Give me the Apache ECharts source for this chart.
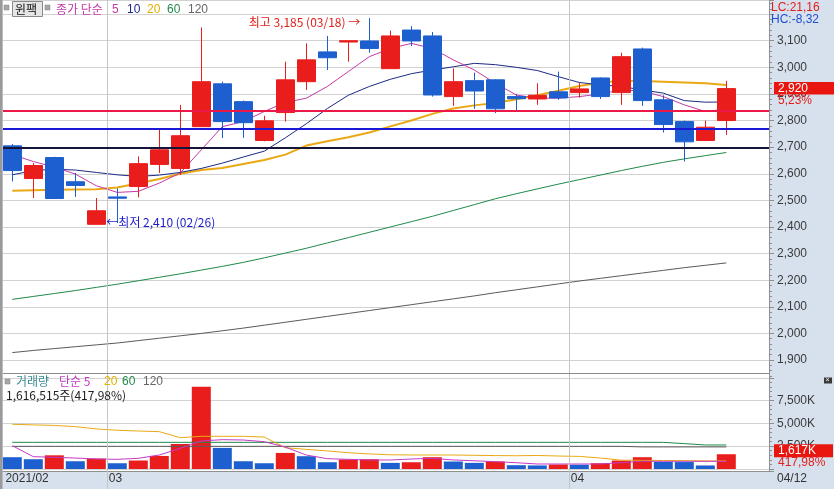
<!DOCTYPE html>
<html><head><meta charset="utf-8">
<script src="https://cdn.jsdelivr.net/npm/echarts@6/dist/echarts.min.js"></script>
<style>html,body{margin:0;padding:0;background:#d7e1ee}#c{width:834px;height:489px}</style>
</head><body><div id="c"></div>
<script>
const dates = ['02/22','02/23','02/24','02/25','02/26','03/02','03/03','03/04','03/05','03/08','03/09','03/10','03/11','03/12','03/15','03/16','03/17','03/18','03/19','03/22','03/23','03/24','03/25','03/26','03/29','03/30','03/31','04/01','04/02','04/05','04/06','04/07','04/08','04/09','04/12'];
const opens  = [2705,2582,2661,2570,2410,2513,2552,2635,2620,2777,2938,2871,2725,2830,2946,3058,3095,3099,2995,3140,3118,2890,2950,2953,2890,2881,2908,2905,2960,2905,3069,2878,2796,2725,2800];
const closes = [2612,2631,2507,2556,2461,2508,2638,2690,2743,2946,2796,2792,2799,2953,3028,3036,3100,3071,3118,3099,2896,2946,2911,2844,2882,2895,2885,2919,2890,3040,2875,2785,2720,2775,2920];
const lows   = [2571,2509,2505,2513,2410,2415,2511,2603,2596,2777,2734,2735,2722,2796,2915,2990,3021,3055,2995,3080,2890,2855,2844,2828,2837,2859,2878,2886,2881,2859,2855,2755,2646,2725,2746];
const highs  = [2712,2640,2664,2603,2509,2545,2665,2769,2859,3150,2946,2875,2818,3021,3090,3118,3100,3185,3138,3155,3133,2996,2980,2955,2900,2940,2984,2943,2962,3055,3074,2895,2800,2800,2949];
const ma5   = [2672,2646,2625,2599,2555,2530,2534,2565,2603,2690,2777,2796,2834,2868,2884,2928,2984,3040,3071,3090,3071,3028,2990,2940,2896,2884,2884,2890,2900,2915,2911,2890,2859,2834,2843];
const ma10  = [2596,2612,2617,2614,2605,2596,2590,2595,2605,2620,2640,2663,2685,2735,2788,2845,2895,2928,2955,2976,2990,3002,3015,3010,3000,2988,2965,2943,2934,2928,2915,2903,2875,2869,2870];
const ma20  = [2536,2538,2540,2541,2542,2548,2564,2580,2600,2614,2622,2637,2652,2672,2706,2722,2737,2755,2778,2800,2825,2845,2857,2866,2880,2895,2912,2930,2942,2950,2949,2946,2943,2940,2934];
const ma60  = [2128,2139,2150,2161,2173,2185,2198,2211,2224,2238,2252,2267,2284,2302,2320,2340,2360,2380,2400,2420,2440,2462,2484,2506,2525,2543,2561,2578,2595,2612,2628,2643,2656,2668,2680];
const ma120 = [1928,1936,1943,1950,1957,1964,1973,1982,1991,2000,2010,2020,2031,2042,2053,2064,2075,2086,2097,2108,2119,2130,2141,2153,2164,2175,2186,2197,2207,2217,2227,2237,2247,2256,2265];
const volumes = [1290,1070,1500,850,1140,630,930,1430,2740,9000,2310,850,630,1760,1400,740,1040,1070,670,740,1290,820,670,820,415,390,490,470,630,930,1290,775,760,387,1617];
const vma5   = [2550,1350,1280,1200,1095,1060,1170,1530,2270,3070,3210,3175,2990,2400,1530,1130,1060,985,985,1095,1170,990,900,800,690,548,548,548,548,700,843,843,843,843,843];
const vma20  = [4895,4830,4770,4640,4390,4240,4160,4090,3430,3580,3580,3580,3500,2330,2150,1980,1780,1650,1560,1533,1533,1533,1500,1470,1450,1480,1420,1380,1200,970,950,930,910,890,876];
const vma60  = [2920,2920,2920,2920,2920,2920,2920,2920,2920,2920,2920,2920,2920,2920,2920,2920,2920,2920,2920,2920,2920,2920,2920,2920,2920,2920,2920,2920,2920,2920,2920,2920,2780,2630,2630];
const vma120 = [2480,2480,2480,2480,2480,2480,2480,2480,2480,2480,2480,2480,2480,2480,2480,2480,2480,2480,2480,2480,2480,2480,2480,2480,2480,2480,2480,2480,2480,2480,2420,2420,2420,2420,2420];
const levelLines = [2837, 2769, 2698];
const monthBreaks = [4.5, 26.5];
const monthLabels = ['2021/02', '03', '04'];
const highInfo = {idx: 17, value: 3185, text: '최고 3,185 (03/18) →'};
const lowInfo = {idx: 4, value: 2410, text: '←최저 2,410 (02/26)'};

const RED = '#ea1d1d', BLUE = '#1d5fce';
const X_MIN = -0.443, X_MAX = 36.033;
const FONT = "'Liberation Sans', Arial, 'Noto Sans CJK KR', sans-serif";
const KFONT = "'Noto Sans CJK KR', 'Liberation Sans', sans-serif";

const chart = echarts.init(document.getElementById('c'));
const idx = dates.map((d, i) => i);
const pairs = arr => arr.map((v, i) => [i, v]);
const lineS = (arr, color, width, xi, z) => ({
  type: 'line', xAxisIndex: xi, yAxisIndex: xi, data: pairs(arr), symbol: 'none', showSymbol: false,
  lineStyle: {color: color, width: width}, z: z || 2, silent: true
});

const option = {
  animation: false,
  backgroundColor: '#d7e1ee',
  textStyle: {fontFamily: FONT},
  grid: [
    {left: 3, right: 65, top: 0, height: 378, show: true, backgroundColor: '#fff', borderWidth: 0},
    {left: 3, right: 65, top: 378, height: 93, show: true, backgroundColor: '#fff', borderWidth: 0}
  ],
  xAxis: [
    {type: 'value', gridIndex: 0, min: X_MIN, max: X_MAX, show: false},
    {type: 'value', gridIndex: 1, min: X_MIN, max: X_MAX,
      axisLine: {show: true, onZero: false, lineStyle: {color: '#8f8f8f'}},
      splitLine: {show: false},
      axisTick: {show: true, customValues: monthBreaks, length: 18, lineStyle: {color: '#c4c4c4'}},
      axisLabel: {show: true, customValues: [X_MIN + 0.02].concat(monthBreaks),
        formatter: function (v) { if (v < 0) return monthLabels[0]; return v < 10 ? monthLabels[1] : monthLabels[2]; },
        align: 'left', margin: 2, padding: [0, 0, 0, 2], color: '#333', fontSize: 12, fontFamily: FONT,
        showMinLabel: true, showMaxLabel: true}
    }
  ],
  yAxis: [
    {type: 'value', gridIndex: 0, position: 'right', min: 1832.5, max: 3253,
      splitNumber: 14, minInterval: 100, maxInterval: 100,
      axisLine: {show: true, onZero: false, lineStyle: {color: '#8f8f8f'}},
      axisTick: {show: true, length: 5, lineStyle: {color: '#8f8f8f'}},
      minorTick: {show: true, splitNumber: 5, length: 3, lineStyle: {color: '#8f8f8f'}},
      splitLine: {show: true, lineStyle: {color: '#d2d2d2', width: 1}},
      axisLabel: {margin: 8, color: '#3a3a3a', fontSize: 12, fontFamily: FONT,
        showMinLabel: false, showMaxLabel: false,
        formatter: function (v) { return (Math.abs(v % 100) < 0.01 && v < 3150 && v > 1850) ? Math.round(v).toLocaleString('en-US') : ''; }}
    },
    {type: 'value', gridIndex: 1, position: 'right', min: -219, max: 9964,
      splitNumber: 4, minInterval: 2500, maxInterval: 2500,
      axisLine: {show: true, onZero: false, lineStyle: {color: '#8f8f8f'}},
      axisTick: {show: true, length: 5, lineStyle: {color: '#8f8f8f'}},
      minorTick: {show: true, splitNumber: 5, length: 3, lineStyle: {color: '#8f8f8f'}},
      splitLine: {show: true, lineStyle: {color: '#d2d2d2', width: 1}},
      axisLabel: {margin: 8, color: '#3a3a3a', fontSize: 12, fontFamily: FONT,
        showMinLabel: false, showMaxLabel: false,
        formatter: function (v) { return (v > 0 && v % 2500 === 0) ? v.toLocaleString('en-US') + 'K' : ''; }}
    }
  ],
  series: [
    {type: 'line', xAxisIndex: 0, yAxisIndex: 0, data: [], z: 1, silent: true,
      markLine: {silent: true, symbol: 'none', label: {show: false},
        lineStyle: {color: '#c4c4c4', width: 1, type: 'solid'},
        data: monthBreaks.map(v => ({xAxis: v}))}},
    {type: 'line', xAxisIndex: 1, yAxisIndex: 1, data: [], z: 1, silent: true,
      markLine: {silent: true, symbol: 'none', label: {show: false},
        lineStyle: {color: '#c4c4c4', width: 1, type: 'solid'},
        data: monthBreaks.map(v => ({xAxis: v}))}},
    lineS(ma120, '#5a5a5a', 1, 0),
    lineS(ma60, '#1f8a4a', 1, 0),
    lineS(ma20, '#eaa914', 2, 0),
    lineS(ma10, '#1c2a84', 1, 0),
    lineS(ma5, '#c43aa6', 1, 0),
    {type: 'candlestick', xAxisIndex: 0, yAxisIndex: 0, z: 3, silent: true,
      data: idx.map(i => [i, opens[i], closes[i], lows[i], highs[i]]),
      encode: {x: 0, y: [1, 2, 3, 4]},
      barWidth: 19,
      itemStyle: {color: RED, color0: BLUE, borderColor: RED, borderColor0: BLUE, borderWidth: 1},
      markLine: {silent: true, symbol: 'none', label: {show: false},
        data: [
          {yAxis: levelLines[0], lineStyle: {color: '#ec1848', width: 2, type: 'solid'}},
          {yAxis: levelLines[1], lineStyle: {color: '#1a1ad6', width: 2, type: 'solid'}},
          {yAxis: levelLines[2], lineStyle: {color: '#15153a', width: 2, type: 'solid'}}
        ]},
      markPoint: {silent: true, symbol: 'circle', symbolSize: 0.1, itemStyle: {color: 'rgba(0,0,0,0)'},
        data: [
          {coord: [highInfo.idx, highInfo.value], label: {show: true, position: 'left', distance: 9, offset: [0, 4],
            formatter: highInfo.text, color: '#e0201a', fontSize: 12, fontFamily: KFONT}},
          {coord: [lowInfo.idx, lowInfo.value], label: {show: true, position: 'right', distance: 10, offset: [0, -2],
            formatter: lowInfo.text, color: '#1a1ad0', fontSize: 12, fontFamily: KFONT}}
        ]}
    },
    {type: 'bar', xAxisIndex: 1, yAxisIndex: 1, barWidth: 19, z: 2, silent: true,
      data: volumes.map((v, i) => ({value: [i, v], itemStyle: {color: (i > 0 && v > volumes[i - 1]) ? RED : BLUE}}))},
    lineS(vma120, '#5a5a5a', 1, 1, 3),
    lineS(vma60, '#1f8a4a', 1, 1, 3),
    lineS(vma20, '#eaa914', 1, 1, 3),
    lineS(vma5, '#c43ac4', 1, 1, 3)
  ]
};
chart.setOption(option);

const lastClose = closes[closes.length - 1];
const lastVol = volumes[volumes.length - 1];
const py = chart.convertToPixel({yAxisIndex: 0}, lastClose);
const vy = chart.convertToPixel({yAxisIndex: 1}, lastVol);
const T = (x, y, text, color, size, font, extra) => Object.assign({type: 'text', z: 100, x: x, y: y,
  style: {text: text, fill: color, font: (size || 12) + 'px ' + (font || FONT), textVerticalAlign: 'middle', textAlign: 'left'}}, extra || {});
chart.setOption({graphic: [
  {type: 'rect', z: 100, shape: {x: 0, y: 0, width: 2.5, height: 489}, style: {fill: '#9a9a9a'}},
  {type: 'line', z: 100, shape: {x1: 3, y1: 373.5, x2: 769, y2: 373.5}, style: {stroke: '#8c8c8c', lineWidth: 1}},
  {type: 'rect', z: 100, shape: {x: 4, y: 5, width: 5, height: 5}, style: {fill: '#a8a8a8', stroke: '#808080', lineWidth: 0.5}},
  {type: 'rect', z: 100, shape: {x: 12.5, y: 1.5, width: 30, height: 15}, style: {fill: '#e6e6e6', stroke: '#8a8a8a', lineWidth: 1}},
  T(15, 9.5, '윈팩', '#111', 12, KFONT),
  {type: 'rect', z: 100, shape: {x: 45, y: 5, width: 5, height: 5}, style: {fill: '#a8a8a8', stroke: '#808080', lineWidth: 0.5}},
  T(56, 9.5, '종가 단순', '#c43aa6', 12, KFONT),
  T(112, 9.5, '5', '#c43aa6', 12),
  T(127, 9.5, '10', '#1c2a84', 12),
  T(147, 9.5, '20', '#e0b000', 12),
  T(167, 9.5, '60', '#1f8a4a', 12),
  T(188, 9.5, '120', '#666', 12),
  T(771, 7.5, 'LC:21,16', '#e0201a', 12),
  T(771, 20, 'HC:-8,32', '#1f4fcf', 12),
  {type: 'rect', z: 100, shape: {x: 774, y: py - 6.5, width: 60, height: 12.5}, style: {fill: '#e8160f'}},
  T(778, py, '2,920', '#fff', 12),
  T(778, py + 12, '5,23%', '#e0201a', 12),
  {type: 'rect', z: 100, shape: {x: 774, y: vy - 10, width: 59, height: 13}, style: {fill: '#e8160f'}},
  T(778, vy - 3.5, '1,617K', '#fff', 12),
  T(778, vy + 8.5, '417,98%', '#e0201a', 12),
  T(777, 478.5, '04/12', '#333', 12),
  {type: 'rect', z: 100, shape: {x: 824, y: 377.5, width: 8, height: 6}, style: {fill: '#3a3a3a'}},
  T(825.5, 380.5, '×', '#fff', 7),
  {type: 'rect', z: 100, shape: {x: 5, y: 379, width: 5, height: 5}, style: {fill: '#a8a8a8', stroke: '#808080', lineWidth: 0.5}},
  T(16, 381.5, '거래량', '#3a8a96', 12, KFONT),
  T(59, 381.5, '단순 5', '#c43ac4', 12, KFONT),
  T(104, 381.5, '20', '#e0b000', 12),
  T(122, 381.5, '60', '#1f8a4a', 12),
  T(143, 381.5, '120', '#666', 12),
  T(6, 395.5, '1,616,515주(417,98%)', '#222', 12, KFONT)
]});
</script>
</body></html>
